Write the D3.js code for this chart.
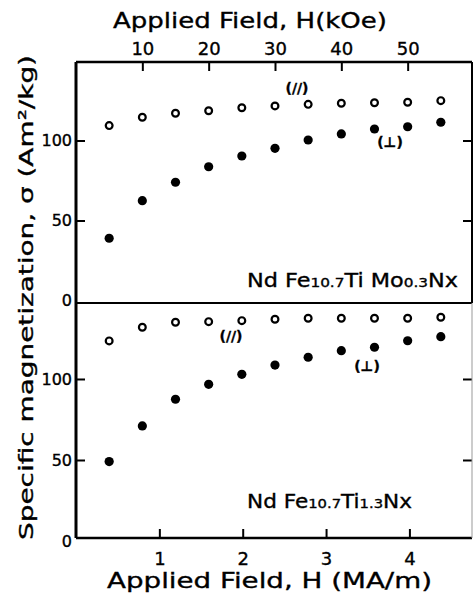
<!DOCTYPE html>
<html>
<head>
<meta charset="utf-8">
<script src="https://cdn.jsdelivr.net/npm/d3@7"></script>
<style>
  html, body { margin: 0; padding: 0; background: #fff; }
  svg { display: block; }
  text { font-family: "DejaVu Sans", sans-serif; fill: #000; stroke: #000; stroke-width: 0.35px; }
</style>
</head>
<body>
<svg id="chart" width="474" height="595"></svg>
<script>
// ---- data (applied field in kOe) ----
const fieldKOe = [5, 10, 15, 20, 25, 30, 35, 40, 45, 50, 55];
// NdFe10.7TiMo0.3Nx
const upperParallel = [109.3, 114.5, 117.0, 118.6, 120.5, 121.6, 122.6, 123.3, 123.6, 123.9, 124.9];
const upperPerp     = [38.9, 62.4, 73.9, 83.6, 90.3, 95.1, 100.3, 104.1, 107.2, 108.6, 111.4];
// NdFe10.7Ti1.3Nx
const lowerParallel = [123.5, 131.9, 135.0, 135.4, 136.0, 136.9, 137.5, 137.5, 137.5, 137.5, 138.1];
const lowerPerp     = [49.0, 71.0, 87.5, 96.7, 102.9, 108.6, 113.4, 117.5, 119.6, 123.6, 126.1];
const topTicks = [10, 20, 30, 40, 50];          // kOe
const bottomTicks = [1, 2, 3, 4];               // MA/m
const yTicks = [0, 50, 100];
const KOE_PER_MAM = 12.566;

const svg = d3.select("#chart");
const L = 76, R = 472, T = 62, MID = 303, B = 538;

const xK = d3.scaleLinear().domain([0, 59.7]).range([L, R]);
const xM = d3.scaleLinear().domain([0, 59.7 / KOE_PER_MAM]).range([L, R]);
const yU = d3.scaleLinear().domain([-1.56, 149.06]).range([MID, T]);
const yL = d3.scaleLinear().domain([1.85, 146.9]).range([B, MID]);

// ---- axes ----
const topAxis = svg.append("g").attr("transform", `translate(0,${T})`)
  .call(d3.axisTop(xK).tickValues(topTicks).tickSize(-9).tickPadding(7).tickFormat(d3.format("d")));
topAxis.selectAll("text").style("font-size", "18px");

const botAxis = svg.append("g").attr("transform", `translate(0,${B})`)
  .call(d3.axisBottom(xM).tickValues(bottomTicks).tickSize(-9).tickPadding(14).tickFormat(d3.format("d")));
botAxis.selectAll("text").style("font-size", "18px");

function leftAxis(scale) {
  const g = svg.append("g").attr("transform", `translate(${L},0)`)
    .call(d3.axisLeft(scale).tickValues(yTicks).tickSize(-9).tickPadding(4).tickFormat(d3.format("d")));
  g.selectAll("text").style("font-size", "16px");
  g.selectAll(".tick").filter(d => d === 0).select("line").remove();
  return g;
}
leftAxis(yU);
leftAxis(yL);

function rightAxis(scale) {
  svg.append("g").attr("transform", `translate(${R},0)`)
    .call(d3.axisRight(scale).tickValues([50, 100]).tickSize(-9).tickFormat(""));
}
rightAxis(yU);
rightAxis(yL);

svg.selectAll(".domain").remove();
svg.selectAll(".tick line").attr("stroke", "#000").attr("stroke-width", 2);

// ---- frame ----
const frame = svg.append("g").attr("stroke", "#000").attr("fill", "none");
frame.append("line").attr("x1", L).attr("x2", R).attr("y1", T).attr("y2", T).attr("stroke-width", 2.5);
frame.append("line").attr("x1", L).attr("x2", L).attr("y1", T).attr("y2", B).attr("stroke-width", 3);
frame.append("line").attr("x1", L).attr("x2", R).attr("y1", B).attr("y2", B).attr("stroke-width", 2.5);
frame.append("line").attr("x1", L).attr("x2", R).attr("y1", MID).attr("y2", MID).attr("stroke-width", 2);
frame.append("line").attr("x1", R).attr("x2", R).attr("y1", T).attr("y2", MID).attr("stroke-width", 2);
frame.append("line").attr("x1", R).attr("x2", R).attr("y1", MID).attr("y2", B).attr("stroke-width", 1).attr("stroke", "#999");

// ---- points ----
function openPts(vals, y) {
  svg.append("g").selectAll("circle").data(vals).join("circle")
    .attr("cx", (d, i) => xK(fieldKOe[i])).attr("cy", d => y(d))
    .attr("r", 3.4).attr("fill", "#fff").attr("stroke", "#000").attr("stroke-width", 2.2);
}
function filledPts(vals, y) {
  svg.append("g").selectAll("circle").data(vals).join("circle")
    .attr("cx", (d, i) => xK(fieldKOe[i])).attr("cy", d => y(d))
    .attr("r", 4.6).attr("fill", "#000");
}
openPts(upperParallel, yU);
filledPts(upperPerp, yU);
openPts(lowerParallel, yL);
filledPts(lowerPerp, yL);

// ---- titles ----
svg.append("text").attr("x", 113).attr("y", 28)
  .attr("textLength", 274).attr("lengthAdjust", "spacingAndGlyphs")
  .style("font-size", "21px").text("Applied Field, H(kOe)");
svg.append("text").attr("x", 107).attr("y", 588)
  .attr("textLength", 325).attr("lengthAdjust", "spacingAndGlyphs")
  .style("font-size", "21px").text("Applied Field, H (MA/m)");
svg.append("text").attr("transform", "translate(33,540) rotate(-90)")
  .attr("x", 0).attr("y", 0)
  .attr("textLength", 485).attr("lengthAdjust", "spacingAndGlyphs")
  .style("font-size", "20px").text("Specific magnetization, σ (Am²/kg)");

// ---- annotations ----
function note(x, y, s) {
  svg.append("text").attr("x", x).attr("y", y).attr("text-anchor", "middle")
    .style("font-size", "14px").style("font-weight", "bold").text(s);
}
note(297, 93, "(//)");
note(390, 147, "(⊥)");
note(231, 341, "(//)");
note(367, 371, "(⊥)");

function formula(x, y, len, parts) {
  const t = svg.append("text").attr("x", x).attr("y", y)
    .attr("textLength", len).attr("lengthAdjust", "spacingAndGlyphs")
    .style("font-size", "19px");
  parts.forEach(p => {
    t.append("tspan").style("font-size", p[1] ? "13px" : "19px").text(p[0]);
  });
}
formula(247, 287, 211, [["Nd Fe", 0], ["10.7", 1], ["Ti Mo", 0], ["0.3", 1], ["Nx", 0]]);
formula(247, 508, 165, [["Nd Fe", 0], ["10.7", 1], ["Ti", 0], ["1.3", 1], ["Nx", 0]]);
</script>
</body>
</html>
